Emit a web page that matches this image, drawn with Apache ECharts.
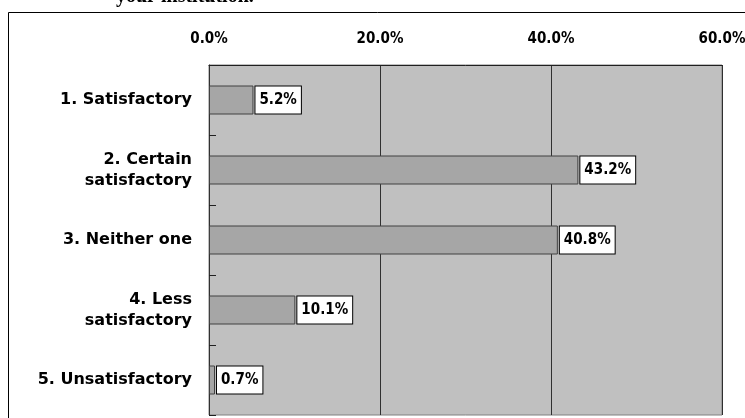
<!DOCTYPE html>
<html>
<head>
<meta charset="utf-8">
<script src="https://cdn.jsdelivr.net/npm/echarts@6/dist/echarts.min.js"></script>
<style>
  html, body { margin: 0; padding: 0; background: #fff; }
  #chart { width: 745px; height: 418px; }
</style>
</head>
<body>
<div id="chart"></div>
<script>
// Survey answers, top to bottom
const categories = [
  '1. Satisfactory',
  '2. Certain\nsatisfactory',
  '3. Neither one',
  '4. Less\nsatisfactory',
  '5. Unsatisfactory'
];
// Share of respondents (%)
const shares = [5.2, 43.2, 40.8, 10.1, 0.7];
// Percentage axis
const axisMin = 0;
const axisMax = 60;
const axisStep = 20;

const wideFont = '"DejaVu Sans", sans-serif';
const narrowFont = '"DejaVu Sans Condensed", "DejaVu Sans", sans-serif';

const chart = echarts.init(document.getElementById('chart'), null, { renderer: 'canvas' });

chart.setOption({
  animation: false,
  backgroundColor: '#ffffff',
  graphic: [
    {
      type: 'text',
      left: 116,
      top: -13,
      style: {
        text: 'your institution.',
        font: 'bold 20px "Liberation Serif", "DejaVu Serif", serif',
        fill: '#000'
      }
    },
    {
      type: 'rect',
      shape: { x: 8.5, y: 12.5, width: 800, height: 500 },
      style: { fill: 'none', stroke: '#000', lineWidth: 1 },
      z: -1
    }
  ],
  grid: {
    left: 209,
    top: 65,
    width: 513,
    height: 350,
    outerBoundsMode: 'none',
    containLabel: false,
    show: true,
    backgroundColor: '#c0c0c0',
    borderColor: '#808080',
    borderWidth: 1
  },
  xAxis: {
    type: 'value',
    position: 'top',
    min: axisMin,
    max: axisMax,
    interval: axisStep,
    axisLine: { show: true, lineStyle: { color: '#202020', width: 1 } },
    axisTick: { show: false },
    axisLabel: {
      margin: 18,
      formatter: v => v.toFixed(1) + '%',
      color: '#000',
      fontWeight: 'bold',
      fontSize: 15,
      fontFamily: narrowFont
    },
    splitLine: { show: true, lineStyle: { color: '#303030', width: 1 } }
  },
  yAxis: {
    type: 'category',
    data: categories,
    inverse: true,
    axisLine: { show: true, lineStyle: { color: '#303030', width: 1 } },
    axisTick: { show: true, inside: true, length: 7, lineStyle: { color: '#202020' } },
    axisLabel: {
      margin: 17,
      color: '#000',
      fontWeight: 'bold',
      fontSize: 16,
      lineHeight: 21,
      align: 'right',
      fontFamily: wideFont
    },
    splitLine: { show: false }
  },
  series: [
    {
      type: 'bar',
      data: shares,
      barWidth: 29,
      itemStyle: { color: '#a6a6a6', borderColor: '#404040', borderWidth: 1 },
      label: {
        show: true,
        position: 'right',
        distance: 2,
        formatter: p => p.value.toFixed(1) + '%',
        color: '#000',
        fontWeight: 'bold',
        fontSize: 15,
        fontFamily: narrowFont,
        backgroundColor: '#ffffff',
        borderColor: '#000',
        borderWidth: 1,
        padding: [6, 4, 5, 4],
        lineHeight: 16
      }
    }
  ]
});
</script>
</body>
</html>
